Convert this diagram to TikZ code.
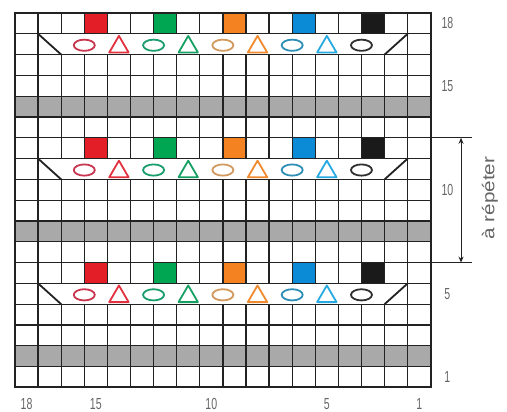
\documentclass[tikz,border=0pt]{standalone}
\usepackage{fontspec}
\setmainfont{Liberation Sans}
\usetikzlibrary{arrows.meta}
\definecolor{gridink}{HTML}{222222}
\definecolor{bandgray}{HTML}{A9A9A9}
\definecolor{labelgray}{HTML}{666666}
\definecolor{sqred}{HTML}{E41E26}
\definecolor{sqgreen}{HTML}{00A651}
\definecolor{sqorange}{HTML}{F58220}
\definecolor{sqblue}{HTML}{0B8BD6}
\definecolor{sqblack}{HTML}{1A1A1A}
\definecolor{ovred}{HTML}{C8374F}
\definecolor{ovgreen}{HTML}{1B9E6E}
\definecolor{ovorange}{HTML}{D29A5E}
\definecolor{ovblue}{HTML}{2E8FB5}
\definecolor{ovblack}{HTML}{303030}
\definecolor{trred}{HTML}{E2323F}
\definecolor{trgreen}{HTML}{16A064}
\definecolor{trorange}{HTML}{F08A2E}
\definecolor{trblue}{HTML}{27A9E1}
\newcommand{\narrow}[1]{\scalebox{0.66}[1]{#1}}

\begin{document}
\begin{tikzpicture}[x=23.1pt, y=20.8pt,
  gridline/.style={draw=gridink, line width=1.25pt},
  frame/.style={draw=gridink, line width=1.8pt},
  band/.style={fill=bandgray},
  knot/.style={line width=1.8pt},
  lbl/.style={font=\fontsize{16}{16}\selectfont, text=labelgray, inner sep=0pt},
  arr/.style={{Stealth[length=6pt, width=5pt]}-{Stealth[length=6pt, width=5pt]}, line width=1pt, color=gridink},
]
\useasboundingbox (-0.649,-1.183) rectangle (21.30,18.625);

% bands and coloured cells
\foreach \s in {0,6,12} {
  \fill[band] (0,\s+1) rectangle (18,\s+2);
  \fill[sqred]    (3,\s+5) rectangle (4,\s+6);
  \fill[sqgreen]  (6,\s+5) rectangle (7,\s+6);
  \fill[sqorange] (9,\s+5) rectangle (10,\s+6);
  \fill[sqblue]   (12,\s+5) rectangle (13,\s+6);
  \fill[sqblack]  (15,\s+5) rectangle (16,\s+6);
}

% grid
\foreach \y in {1,...,17}
  \draw[gridline] (0,\y) -- (18,\y);
\foreach \x in {1,17}
  \draw[gridline] (\x,0) -- (\x,18);
\foreach \x in {2,...,16}
  \foreach \s in {0,6,12} {
    \draw[gridline] (\x,\s) -- (\x,\s+4);
    \draw[gridline] (\x,\s+5) -- (\x,\s+6);
  }
\draw[frame] (0,0) rectangle (18,18);

% symbol rows
\foreach \s in {0,6,12} {
  \draw[knot, gridink] (1,\s+5) -- (2,\s+4);
  \draw[knot, gridink] (16,\s+4) -- (17,\s+5);
  \foreach \cx/\ov/\tr in {3/ovred/trred, 6/ovgreen/trgreen, 9/ovorange/trorange, 12/ovblue/trblue} {
    \draw[knot, \ov] (\cx,\s+4.45) ellipse [x radius=10.5pt, y radius=5.6pt];
    \draw[knot, \tr, line join=round] (\cx+1.08,\s+4.1) -- (\cx+1.5,\s+4.9) -- (\cx+1.92,\s+4.1) -- cycle;
  }
  \draw[knot, ovblack] (15,\s+4.45) ellipse [x radius=10.5pt, y radius=5.6pt];
}

% numbering
\foreach \r in {18,15,10,5,1}
  \node[lbl] (row\r) at (18.72,\r-0.5) {\narrow{\r}};
\foreach \c in {18,15,10,5,1}
  \node[lbl] (col\c) at (18.5-\c,-0.8) {\narrow{\c}};

% repeat mark
\coordinate (reptop) at (19.31,12);
\coordinate (repbot) at (19.31,6);
\draw[line width=1.4pt, gridink] (18,12) -- (19.78,12);
\draw[line width=1.4pt, gridink] (18,6) -- (19.78,6);
\draw[arr] (reptop) -- (repbot);
\node[lbl, font=\fontsize{17}{17}\selectfont, rotate=90] (repeat) at (20.56,9.1) {\scalebox{1.22}[1]{à répéter}};
\end{tikzpicture}
\end{document}
